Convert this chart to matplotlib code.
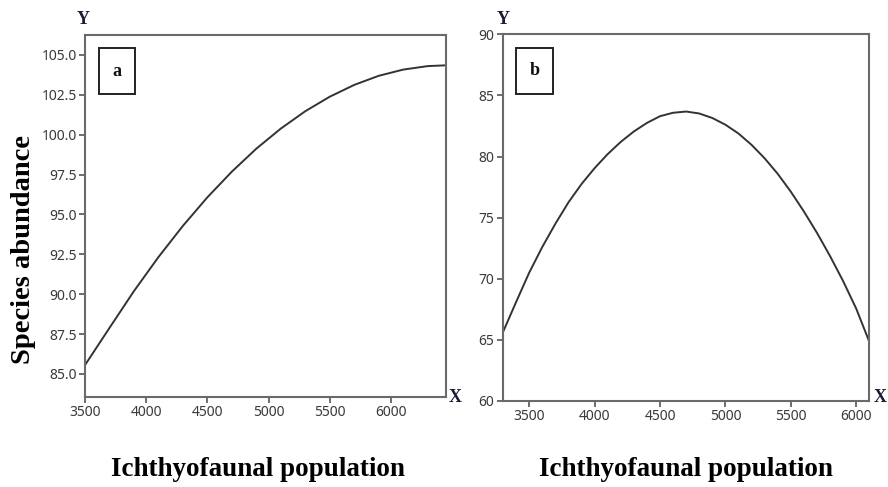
import numpy as np
import matplotlib
matplotlib.use("Agg")
import matplotlib.pyplot as plt
from matplotlib.patches import Rectangle
from matplotlib.ticker import FormatStrFormatter

## data
pop_a = [3500, 3700, 3900, 4100, 4300, 4500, 4700, 4900, 5100, 5300,
         5500, 5700, 5900, 6100, 6300, 6450]
abund_a = [85.55, 87.88, 90.19, 92.32, 94.28, 96.07, 97.68, 99.12, 100.38,
           101.47, 102.38, 103.12, 103.69, 104.08, 104.30, 104.35]

pop_b = [3296, 3400, 3500, 3600, 3700, 3800, 3900, 4000, 4100, 4200, 4300,
         4400, 4500, 4600, 4700, 4800, 4900, 5000, 5100, 5200, 5300, 5400,
         5500, 5600, 5700, 5800, 5900, 6000, 6094]
abund_b = [65.55, 68.1, 70.5, 72.6, 74.5, 76.25, 77.75, 79.05, 80.2, 81.2, 82.05,
           82.75, 83.3, 83.58, 83.68, 83.52, 83.15, 82.6, 81.88, 80.95, 79.85,
           78.58, 77.12, 75.5, 73.75, 71.85, 69.8, 67.55, 65.0]

xticks = [3500, 4000, 4500, 5000, 5500, 6000]
yticks_a = [85.0, 87.5, 90.0, 92.5, 95.0, 97.5, 100.0, 102.5, 105.0]
yticks_b = [60, 65, 70, 75, 80, 85, 90]

xlabel = "Ichthyofaunal population"
ylabel = "Species abundance"
serif = "Liberation Serif"
axis_letter_color = "#1b1b33"


def style_axes(ax):
    for sp in ax.spines.values():
        sp.set_color("#6a6a6a")
        sp.set_linewidth(1.5)
    ax.tick_params(direction="out", length=4, width=1.2, color="#555555",
                   labelsize=10, labelcolor="#3a3a3a", pad=2)
    for lab in ax.get_xticklabels() + ax.get_yticklabels():
        lab.set_fontfamily("Noto Sans")


def panel_box(ax, x0, y0, w, h, letter):
    ax.add_patch(Rectangle((x0, y0), w, h, transform=ax.transAxes,
                           fill=False, edgecolor="#222222", lw=1.4,
                           clip_on=False, zorder=5))
    ax.text(x0 + w / 2, y0 + h / 2, letter, transform=ax.transAxes,
            ha="center", va="center", fontsize=13, fontweight="bold",
            family=serif, color="#111111")


fig = plt.figure(figsize=(8.88, 4.87), dpi=100)

## panel a
ax1 = fig.add_axes([0.0957, 0.1848, 0.4065, 0.7433])
ax1.plot(pop_a, abund_a, color="#333333", lw=1.4)
ax1.set_xlim(3500, 6450)
ax1.set_ylim(83.55, 106.25)
ax1.set_xticks(xticks)
ax1.set_yticks(yticks_a)
ax1.yaxis.set_major_formatter(FormatStrFormatter("%.1f"))
style_axes(ax1)
panel_box(ax1, 0.039, 0.837, 0.1, 0.127, "a")

## panel b
ax2 = fig.add_axes([0.5659, 0.1766, 0.4122, 0.753])
ax2.plot(pop_b, abund_b, color="#333333", lw=1.4)
ax2.set_xlim(3296, 6094)
ax2.set_ylim(60, 90)
ax2.set_xticks(xticks)
ax2.set_yticks(yticks_b)
style_axes(ax2)
panel_box(ax2, 0.037, 0.837, 0.101, 0.126, "b")

## axis titles and X / Y markers
fig.text(258 / 888, 1 - 470 / 487, xlabel, ha="center", va="center",
         family=serif, fontweight="bold", fontsize=19.5)
fig.text(686 / 888, 1 - 470 / 487, xlabel, ha="center", va="center",
         family=serif, fontweight="bold", fontsize=19.5)
fig.text(24 / 888, 1 - 250 / 487, ylabel, ha="center", va="center",
         rotation=90, family=serif, fontweight="bold", fontsize=20.5)

for x, y, s in [(83, 20, "Y"), (503, 20, "Y"), (455, 398, "X"), (880, 398, "X")]:
    fig.text(x / 888, 1 - y / 487, s, ha="center", va="center",
             family=serif, fontweight="bold", fontsize=13,
             color=axis_letter_color)

fig.savefig("out.png", dpi=100)
